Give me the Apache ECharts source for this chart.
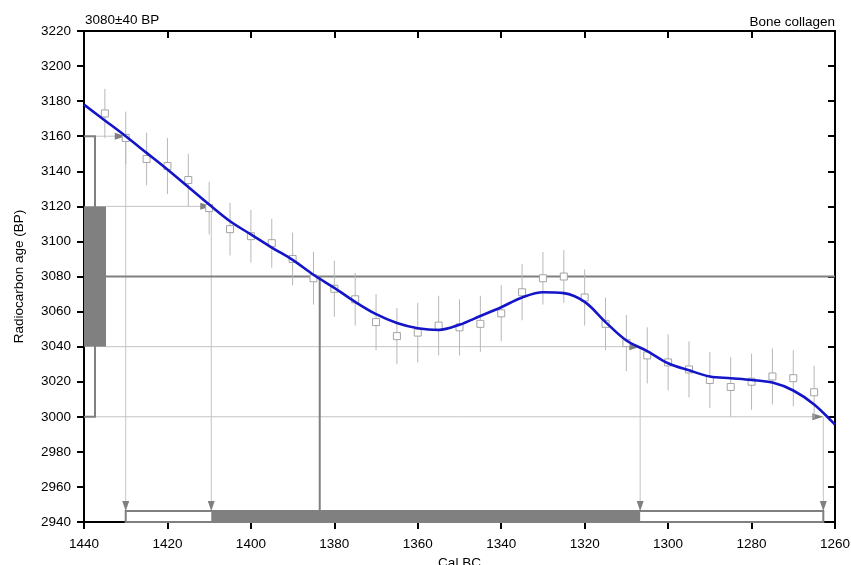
<!DOCTYPE html>
<html>
<head>
<meta charset="utf-8">
<script src="https://cdn.jsdelivr.net/npm/echarts@6/dist/echarts.min.js"></script>
<style>html,body{margin:0;padding:0;background:#fff}#chart{width:851px;height:565px}</style>
</head>
<body>
<div id="chart"></div>
<script>
// ---- data ----
const pointYears = [1435,1430,1425,1420,1415,1410,1405,1400,1395,1390,1385,1380,1375,1370,1365,1360,1355,1350,1345,1340,1335,1330,1325,1320,1315,1310,1305,1300,1295,1290,1285,1280,1275,1270,1265];
const pointAges  = [3173,3159,3147,3143,3135,3119,3107,3103,3099,3090,3079,3073,3067,3054,3046,3048,3052,3051,3053,3059,3071,3079,3080,3068,3053,3042,3035,3031,3027,3021,3017,3020,3023,3022,3014];
const pointErrs  = [14,15,15,16,15,15,15,15,14,15,15,16,15,16,16,17,17,16,16,16,16,15,15,16,15,16,16,16,16,16,17,16,16,16,15];

const curveYears = [1440,1435,1430,1425,1420,1415,1410,1405,1400,1395,1390,1385,1380,1375,1370,1365,1360,1355,1350,1345,1340,1335,1330,1325,1320,1315,1310,1305,1300,1295,1290,1285,1280,1275,1270,1265,1260];
const curveAges  = [3178,3169,3160,3150.5,3141,3131,3121,3111.5,3104,3096.5,3089.5,3081,3073.5,3065.5,3058.5,3053.5,3050.5,3049.5,3052.5,3057.5,3062.5,3068,3071,3070.5,3065.5,3054,3043.5,3037.5,3030.5,3026.5,3023,3022,3021,3019.5,3015,3007,2995.5];

const measuredAge = 3080;
const measuredSigma = 40;
const calMedian = 1383.5;
const range1Sigma = [1409.5, 1306.7];
const range2Sigma = [1430, 1262.8];

const xTicks = {min: 1260, max: 1440, step: 20};
const yTicks = {min: 2940, max: 3220, step: 20};

const titleLeft = '3080±40 BP';
const titleRight = 'Bone collagen';
const xName = 'Cal BC';
const yName = 'Radiocarbon age (BP)';

// ---- chart ----
const FONT = 'Liberation Sans, Arial, sans-serif';
const GRAY = '#808080';
const LIGHT = '#c4c4c4';
const chart = echarts.init(document.getElementById('chart'), null, {renderer: 'canvas'});

const pointData = pointYears.map((y, i) => [y, pointAges[i], pointErrs[i]]);
const curveData = curveYears.map((y, i) => [y, curveAges[i]]);

function axisCommon(extra) {
  return Object.assign({
    type: 'value', min: xTicks.min, max: xTicks.max, interval: xTicks.step,
    axisLine: {show: true, onZero: false, lineStyle: {color: '#000', width: 2}},
    axisTick: {show: true, length: 7, lineStyle: {color: '#000', width: 2}},
    splitLine: {show: false}
  }, extra);
}

function renderPoint(params, api) {
  const x = api.value(0), y = api.value(1), e = api.value(2);
  const p = api.coord([x, y]);
  const t = api.coord([x, y + e]);
  const b = api.coord([x, y - e]);
  return {type: 'group', children: [
    {type: 'line', shape: {x1: p[0], y1: t[1], x2: p[0], y2: b[1]}, style: {stroke: '#b8b8b8', lineWidth: 1}},
    {type: 'rect', shape: {x: p[0] - 3.5, y: p[1] - 3.5, width: 7, height: 7}, style: {fill: '#fff', stroke: '#a4a4a4', lineWidth: 1}}
  ]};
}

function triRight(tipX, y, col) {
  return {type: 'polygon', shape: {points: [[tipX, y], [tipX - 11, y - 3.5], [tipX - 11, y + 3.5]]}, style: {fill: col}};
}
function triDown(x, tipY, col) {
  return {type: 'polygon', shape: {points: [[x, tipY], [x - 3.5, tipY - 10], [x + 3.5, tipY - 10]]}, style: {fill: col}};
}

function renderThin(params, api) {
  const c = (x, y) => api.coord([x, y]);
  const xl = c(xTicks.max, measuredAge)[0];
  const yBottom = c(xTicks.max, yTicks.min)[1];
  const barTop = yBottom - 11;
  const bracketX = xl + 11;
  const rectR = xl + 22;
  const levels = [
    {age: measuredAge + 2 * measuredSigma, cal: range2Sigma[0], from: bracketX},
    {age: measuredAge + measuredSigma, cal: range1Sigma[0], from: rectR},
    {age: measuredAge - measuredSigma, cal: range1Sigma[1], from: rectR},
    {age: measuredAge - 2 * measuredSigma, cal: range2Sigma[1], from: bracketX}
  ];
  const ch = [];
  levels.forEach(l => {
    const p = c(l.cal, l.age);
    ch.push({type: 'line', shape: {x1: l.from, y1: p[1], x2: p[0], y2: p[1]}, style: {stroke: LIGHT, lineWidth: 1}});
    ch.push({type: 'line', shape: {x1: p[0], y1: p[1], x2: p[0], y2: barTop}, style: {stroke: LIGHT, lineWidth: 1}});
    ch.push(triRight(p[0], p[1], GRAY));
    ch.push(triDown(p[0], barTop, GRAY));
  });
  return {type: 'group', children: ch};
}

function renderThick(params, api) {
  const c = (x, y) => api.coord([x, y]);
  const xl = c(xTicks.max, measuredAge)[0];
  const xr = c(xTicks.min, measuredAge)[0];
  const yM = c(xTicks.max, measuredAge)[1];
  const yBottom = c(xTicks.max, yTicks.min)[1];
  const barTop = yBottom - 11;
  const bracketX = xl + 11;
  const y2hi = c(xTicks.max, measuredAge + 2 * measuredSigma)[1];
  const y2lo = c(xTicks.max, measuredAge - 2 * measuredSigma)[1];
  const y1hi = c(xTicks.max, measuredAge + measuredSigma)[1];
  const y1lo = c(xTicks.max, measuredAge - measuredSigma)[1];
  const x2a = c(range2Sigma[0], yTicks.min)[0], x2b = c(range2Sigma[1], yTicks.min)[0];
  const x1a = c(range1Sigma[0], yTicks.min)[0], x1b = c(range1Sigma[1], yTicks.min)[0];
  const xm = c(calMedian, measuredAge)[0];
  return {type: 'group', children: [
    {type: 'line', shape: {x1: xl, y1: yM, x2: xr, y2: yM}, style: {stroke: GRAY, lineWidth: 2}},
    {type: 'polyline', shape: {points: [[xl, y2hi], [bracketX, y2hi], [bracketX, y2lo], [xl, y2lo]]}, style: {stroke: GRAY, lineWidth: 2, fill: null}},
    {type: 'rect', shape: {x: xl, y: y1hi, width: 22, height: y1lo - y1hi}, style: {fill: GRAY}},
    {type: 'rect', shape: {x: x2a, y: barTop, width: x2b - x2a, height: yBottom - barTop}, style: {fill: '#fff', stroke: GRAY, lineWidth: 2}},
    {type: 'rect', shape: {x: x1a, y: barTop - 1, width: x1b - x1a, height: yBottom - barTop + 1}, style: {fill: GRAY}},
    {type: 'line', shape: {x1: xm, y1: yM, x2: xm, y2: barTop}, style: {stroke: GRAY, lineWidth: 2}}
  ]};
}

const plain = v => String(v);

chart.setOption({
  animation: false,
  backgroundColor: '#fff',
  textStyle: {fontFamily: FONT},
  grid: {left: 84, right: 16, top: 31, bottom: 43, containLabel: false, outerBoundsMode: 'none'},
  title: [
    {text: titleLeft, left: 80, top: 8, textStyle: {fontFamily: FONT, fontSize: 13.5, fontWeight: 'normal', color: '#000'}},
    {text: titleRight, right: 11, top: 10, textStyle: {fontFamily: FONT, fontSize: 13.5, fontWeight: 'normal', color: '#000'}}
  ],
  xAxis: [
    axisCommon({position: 'bottom', inverse: true, name: xName, nameLocation: 'middle', nameGap: 30,
      nameTextStyle: {fontFamily: FONT, fontSize: 13.5, color: '#000'},
      axisLabel: {show: true, margin: 15, fontFamily: FONT, fontSize: 13.5, color: '#000', showMinLabel: true, showMaxLabel: true, formatter: plain}}),
    axisCommon({position: 'top', inverse: true, axisTick: {show: true, inside: true, length: 7, lineStyle: {color: '#000', width: 2}}, axisLabel: {show: false}})
  ],
  yAxis: [
    axisCommon({min: yTicks.min, max: yTicks.max, interval: yTicks.step, position: 'left', name: yName, nameLocation: 'middle', nameGap: 58,
      nameTextStyle: {fontFamily: FONT, fontSize: 13.5, color: '#000'},
      axisLabel: {show: true, margin: 13, fontFamily: FONT, fontSize: 13.5, color: '#000', showMinLabel: true, showMaxLabel: true, formatter: plain}}),
    axisCommon({min: yTicks.min, max: yTicks.max, interval: yTicks.step, position: 'right', axisTick: {show: true, inside: true, length: 7, lineStyle: {color: '#000', width: 2}}, axisLabel: {show: false}})
  ],
  series: [
    {type: 'custom', name: 'thin', renderItem: renderThin, data: [[xTicks.max, measuredAge]], z: 1, silent: true},
    {type: 'custom', name: 'thick', renderItem: renderThick, data: [[xTicks.max, measuredAge]], z: 2, silent: true},
    {type: 'custom', name: 'points', renderItem: renderPoint, data: pointData, z: 3, silent: true, encode: {x: 0, y: 1}},
    {type: 'line', name: 'curve', data: curveData, smooth: 0.35, showSymbol: false, symbol: 'none', z: 4,
      lineStyle: {color: '#1414c8', width: 2.6}, silent: true}
  ]
});
</script>
</body>
</html>
